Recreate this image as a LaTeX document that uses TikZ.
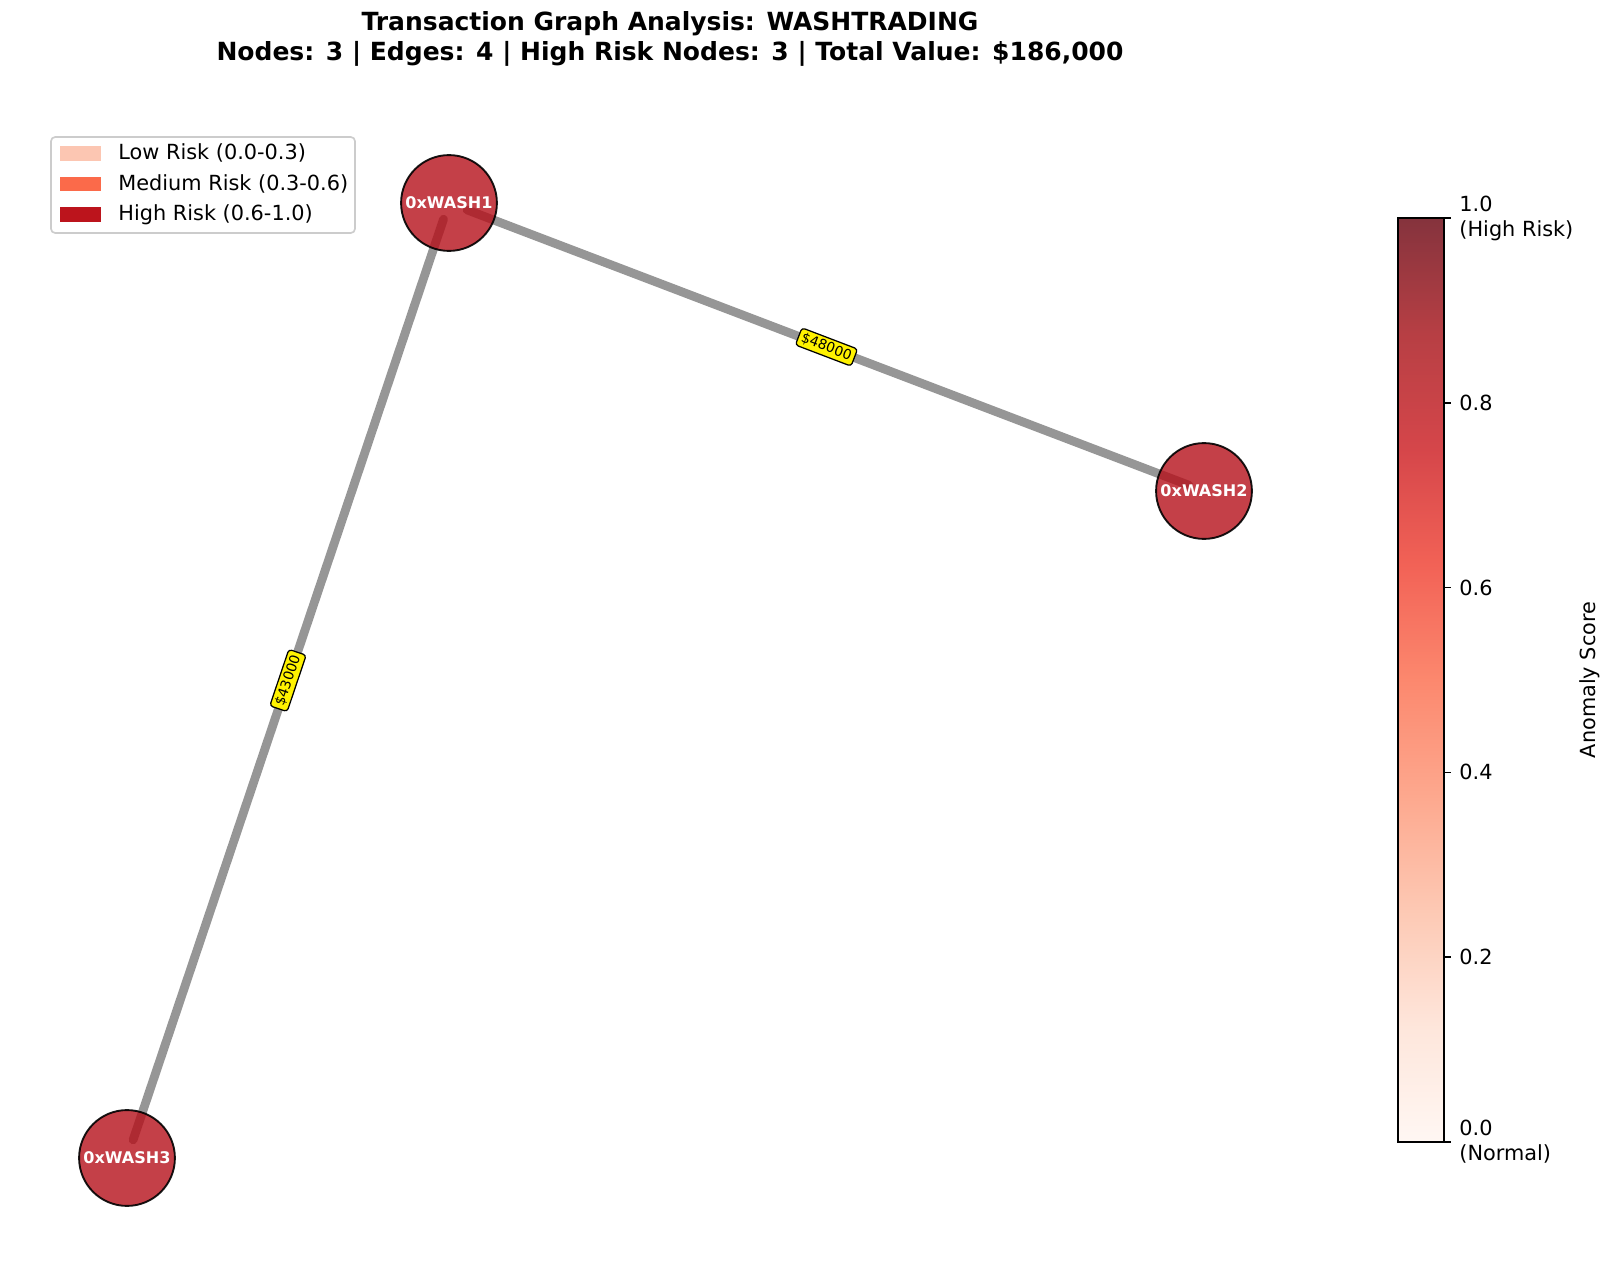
\documentclass[tikz,border=0pt]{standalone}
\usepackage{fontspec}
\setmainfont{DejaVu Sans}
\usetikzlibrary{calc}
\definecolor{nodered}{RGB}{181,16,26}
\definecolor{edgegray}{RGB}{150,150,150}
\definecolor{lowc}{RGB}{252,198,178}
\definecolor{medc}{RGB}{251,106,74}
\definecolor{highc}{RGB}{188,20,28}
\definecolor{legframe}{RGB}{204,204,204}
\definecolor{cbA}{RGB}{255,247,243}
\definecolor{cbB}{RGB}{254,230,219}
\definecolor{cbC}{RGB}{253,201,180}
\definecolor{cbD}{RGB}{253,168,142}
\definecolor{cbE}{RGB}{252,136,110}
\definecolor{cbF}{RGB}{242,98,86}
\definecolor{cbG}{RGB}{213,70,74}
\definecolor{cbH}{RGB}{183,63,68}
\definecolor{cbI}{RGB}{133,51,61}
\begin{document}
\begin{tikzpicture}[x=0.48pt,y=-0.48pt,
  acct/.style={circle, minimum size=46pt, inner sep=0pt, fill=nodered, fill opacity=0.8,
    draw=black, draw opacity=0.9, line width=0.9pt, text=white, text opacity=1,
    font=\fontsize{7.7}{9}\selectfont\bfseries},
  flow/.style={draw=edgegray, line width=4.2pt, line cap=round},
  amount/.style={fill=yellow, draw=black, line width=0.6pt, rounded corners=1.5pt,
    inner xsep=1.7pt, inner ysep=1.4pt, font=\fontsize{6.6}{7.6}\selectfont, sloped},
  legtext/.style={anchor=west, inner sep=0pt, font=\fontsize{10}{12}\selectfont},
  ticklbl/.style={anchor=west, inner sep=0pt, align=left, font=\fontsize{10}{12}\selectfont},
  cbtick/.style={line width=0.8pt}
]
\useasboundingbox (0,0) rectangle (1616,1273);

% title
\node[align=center, font=\fontsize{12}{14.4}\selectfont\bfseries] (title) at (670,39)
  {Transaction Graph Analysis: WASHTRADING\\Nodes: 3 | Edges: 4 | High Risk Nodes: 3 | Total Value: \$186,000};

% node positions
\coordinate (pA) at (449,203);
\coordinate (pB) at (1204,491);
\coordinate (pC) at (127,1158);

% edges
\draw[flow] ($(pA)!0.024!(pB)$) -- ($(pB)!0.02!(pA)$);
\draw[flow] ($(pC)!0.019!(pA)$) -- ($(pA)!0.017!(pC)$);

% accounts
\node[acct] (A) at (pA) {0xWASH1};
\node[acct] (B) at (pB) {0xWASH2};
\node[acct] (C) at (pC) {0xWASH3};

% edge labels
\path (pA) -- (pB) node[amount, midway] (lAB) {\$48000};
\path (pC) -- (pA) node[amount, midway] (lCA) {\$43000};

% legend
\draw[legframe, line width=0.8pt, fill=white, rounded corners=2pt] (51,137) rectangle (355,233);
\fill[lowc] (60,146) rectangle (101,161);
\fill[medc] (60,177) rectangle (101,191);
\fill[highc] (60,207) rectangle (101,222);
\node[legtext] (l1) at (118,153) {Low Risk (0.0-0.3)};
\node[legtext] (l2) at (118,184) {Medium Risk (0.3-0.6)};
\node[legtext] (l3) at (118,214.5) {High Risk (0.6-1.0)};

% colorbar
\shade[top color=cbI, bottom color=cbH] (1398,218) rectangle (1444,334);
\shade[top color=cbH, bottom color=cbG] (1398,333.5) rectangle (1444,449.5);
\shade[top color=cbG, bottom color=cbF] (1398,449) rectangle (1444,565);
\shade[top color=cbF, bottom color=cbE] (1398,564.5) rectangle (1444,680.5);
\shade[top color=cbE, bottom color=cbD] (1398,680) rectangle (1444,796);
\shade[top color=cbD, bottom color=cbC] (1398,795.5) rectangle (1444,911.5);
\shade[top color=cbC, bottom color=cbB] (1398,911) rectangle (1444,1027);
\shade[top color=cbB, bottom color=cbA] (1398,1026.5) rectangle (1444,1142);
\draw[line width=0.8pt] (1398,218) rectangle (1444,1142);
\foreach \yy in {218,402.8,587.6,772.4,957.2,1142}
  \draw[cbtick] (1444,\yy) -- (1451.3,\yy);
\node[ticklbl] (t10) at (1459,218) {1.0\\(High Risk)};
\node[ticklbl] (t08) at (1459,402.8) {0.8};
\node[ticklbl] (t06) at (1459,587.6) {0.6};
\node[ticklbl] (t04) at (1459,772.4) {0.4};
\node[ticklbl] (t02) at (1459,957.2) {0.2};
\node[ticklbl] (t00) at (1459,1142) {0.0\\(Normal)};
\node[rotate=90, font=\fontsize{10}{12}\selectfont] (cbl) at (1590,680) {Anomaly Score};
\end{tikzpicture}
\end{document}
